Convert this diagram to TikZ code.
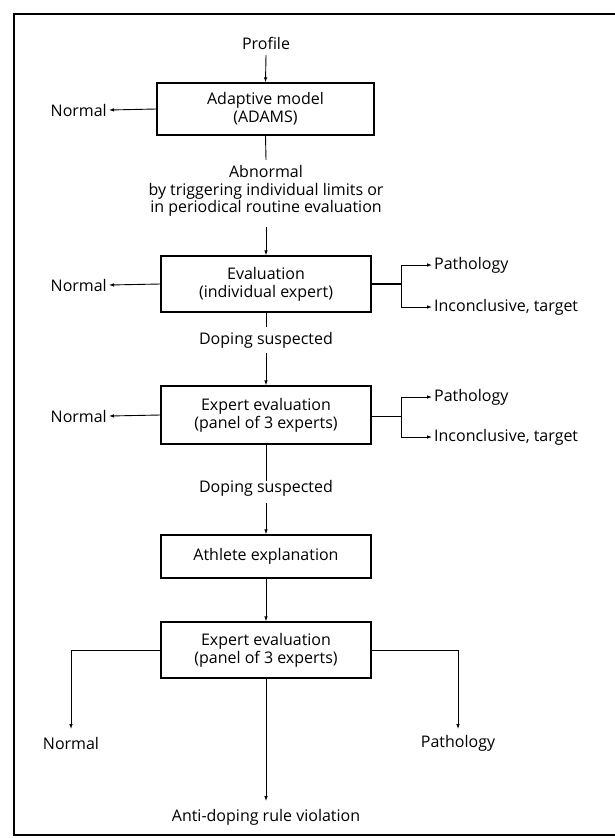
\documentclass[tikz,border=0pt]{standalone}
\usepackage{fontspec}
\setmainfont{Open Sans}
\usetikzlibrary{arrows.meta}
\newcommand{\lblfont}{\fontsize{16}{17.8}\selectfont}
\tikzset{
  box/.style={draw, line width=1.3pt, minimum width=210pt, minimum height=56pt, align=center, inner sep=0pt, font=\lblfont},
  lbl/.style={align=center, inner sep=2pt, font=\lblfont},
  arr/.style={-{Latex[length=5pt,width=3.6pt]}, line width=0.9pt},
  ln/.style={line width=0.9pt},
}
\begin{document}
\begin{tikzpicture}[x=1pt,y=-1pt]
\useasboundingbox (0,0) rectangle (615,838);
% frame
\draw[line width=1.2pt] (615,14) -- (14,14) -- (14,835) -- (615,835);

% boxes
\node[box, minimum width=217pt, minimum height=52pt] (b1) at (265.5,109) {Adaptive model\\(ADAMS)};
\node[box] (b2) at (266,284) {Evaluation\\(individual expert)};
\node[box, minimum height=58pt] (b3) at (266,415) {Expert evaluation\\(panel of 3 experts)};
\node[box, minimum height=43pt] (b4) at (266,556.5) {Athlete explanation};
\node[box] (b5) at (266,650) {Expert evaluation\\(panel of 3 experts)};

% labels
\node[lbl] (prof) at (266,43) {Profile};
\node[lbl] (abn) at (266,191) {Abnormal\\by triggering individual limits or\\in periodical routine evaluation};
\node[lbl] (ds1) at (266,340) {Doping suspected};
\node[lbl] (ds2) at (266,488) {Doping suspected};
\node[lbl, anchor=east] (n1) at (109,110) {Normal};
\node[lbl, anchor=east] (n2) at (109,285) {Normal};
\node[lbl, anchor=east] (n3) at (109,416) {Normal};
\node[lbl, anchor=west] (p2) at (432,265) {Pathology};
\node[lbl, anchor=west] (i2) at (432,307) {Inconclusive, target};
\node[lbl, anchor=west] (p3) at (432,397) {Pathology};
\node[lbl, anchor=west] (i3) at (432,437) {Inconclusive, target};
\node[lbl] (n5) at (71,743) {Normal};
\node[lbl] (p5) at (458,743) {Pathology};
\node[lbl] (adrv) at (266,817) {Anti-doping rule violation};

% coordinates
\coordinate (c1) at (266,55);
\coordinate (c2) at (266,160);
\coordinate (c3) at (266,227);
\coordinate (c4) at (266,327);
\coordinate (c5) at (266,353);
\coordinate (c6) at (266,481);
\coordinate (c7) at (266,503);
\coordinate (j2) at (401,284);
\coordinate (j2a) at (401,265);
\coordinate (j2b) at (401,307);
\coordinate (j3) at (401,416);
\coordinate (j3a) at (401,397);
\coordinate (j3b) at (401,437);
\coordinate (t5) at (266,801);
\coordinate (l5) at (71,729);
\coordinate (r5) at (458,729);

% connectors
\draw[arr] (c1) -- (b1.north);
\draw[arr] (b1.west) -- (n1.east);
\draw[ln] (b1.south) -- (c2);
\draw[arr] (c3) -- (b2.north);
\draw[arr] (b2.west) -- (n2.east);
\draw[line width=2.4pt] (b2.east) -- (j2);
\draw[ln] (j2a) -- (j2b);
\draw[arr] (j2a) -- (p2.west);
\draw[arr] (j2b) -- (i2.west);
\draw[ln] (b2.south) -- (c4);
\draw[arr] (c5) -- (b3.north);
\draw[arr] (b3.west) -- (n3.east);
\draw[ln] (b3.east |- j3) -- (j3);
\draw[ln] (j3a) -- (j3b);
\draw[arr] (j3a) -- (p3.west);
\draw[arr] (j3b) -- (i3.west);
\draw[ln] (b3.south) -- (c6);
\draw[arr] (c7) -- (b4.north);
\draw[arr] (b4.south) -- (b5.north);
\draw[arr] (b5.south) -- (t5);
\draw[arr] (b5.west) -| (l5);
\draw[arr] (b5.east) -| (r5);
\end{tikzpicture}
\end{document}
